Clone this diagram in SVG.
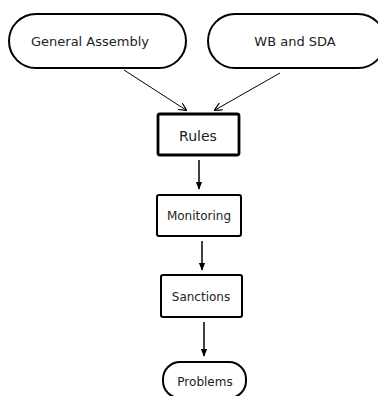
<svg xmlns="http://www.w3.org/2000/svg" width="378" height="396" viewBox="0 0 378 396">
<defs>
<marker id="ah" viewBox="0 0 10 10" refX="9" refY="5" markerWidth="8" markerHeight="8" orient="auto" markerUnits="userSpaceOnUse"><path d="M0,0 L10,5 L0,10" fill="none" stroke="#000" stroke-width="1.5"/></marker>
<marker id="af" viewBox="0 0 10 10" refX="9" refY="5" markerWidth="8" markerHeight="8" orient="auto" markerUnits="userSpaceOnUse"><path d="M0,1 L10,5 L0,9 Z" fill="#000"/></marker>
</defs>
<style>
.n{fill:#fff;stroke:#000;stroke-width:2}
.b{fill:#fff;stroke:#000;stroke-width:2.8}
text{font-family:"DejaVu Sans",Verdana,sans-serif;fill:#222;text-anchor:middle;dominant-baseline:central}
.c line{stroke:#000}
</style>
<g id="general-assembly"><rect class="n" x="9" y="14" width="177" height="54" rx="27" stroke-width="1.6"/><text x="90" y="41" font-size="13">General Assembly</text></g>
<g id="wb-sda"><rect class="n" x="208" y="14" width="177" height="54" rx="27" stroke-width="1.6"/><text x="295" y="41" font-size="13">WB and SDA</text></g>
<g id="rules"><rect class="b" x="158" y="114" width="81" height="41" rx="2"/><text x="198" y="136" font-size="14">Rules</text></g>
<g id="monitoring"><rect class="n" x="157" y="195" width="84" height="41" rx="2"/><text x="199" y="216" font-size="12">Monitoring</text></g>
<g id="sanctions"><rect class="n" x="161" y="275" width="81" height="42" rx="2"/><text x="201" y="297" font-size="12">Sanctions</text></g>
<g id="problems"><rect class="n" x="163" y="362" width="83" height="36" rx="17" stroke-width="2.5"/><text x="205" y="382" font-size="12">Problems</text></g>
<g class="c">
<line x1="124" y1="70" x2="186" y2="110" stroke-width="1" marker-end="url(#ah)"/>
<line x1="280" y1="73" x2="215" y2="110" stroke-width="1" marker-end="url(#ah)"/>
<line x1="199" y1="160" x2="199" y2="189" stroke-width="1.5" marker-end="url(#af)"/>
<line x1="202" y1="241" x2="202" y2="270" stroke-width="1.5" marker-end="url(#af)"/>
<line x1="204" y1="322" x2="204" y2="356" stroke-width="1.5" marker-end="url(#af)"/>
</g>
</svg>
